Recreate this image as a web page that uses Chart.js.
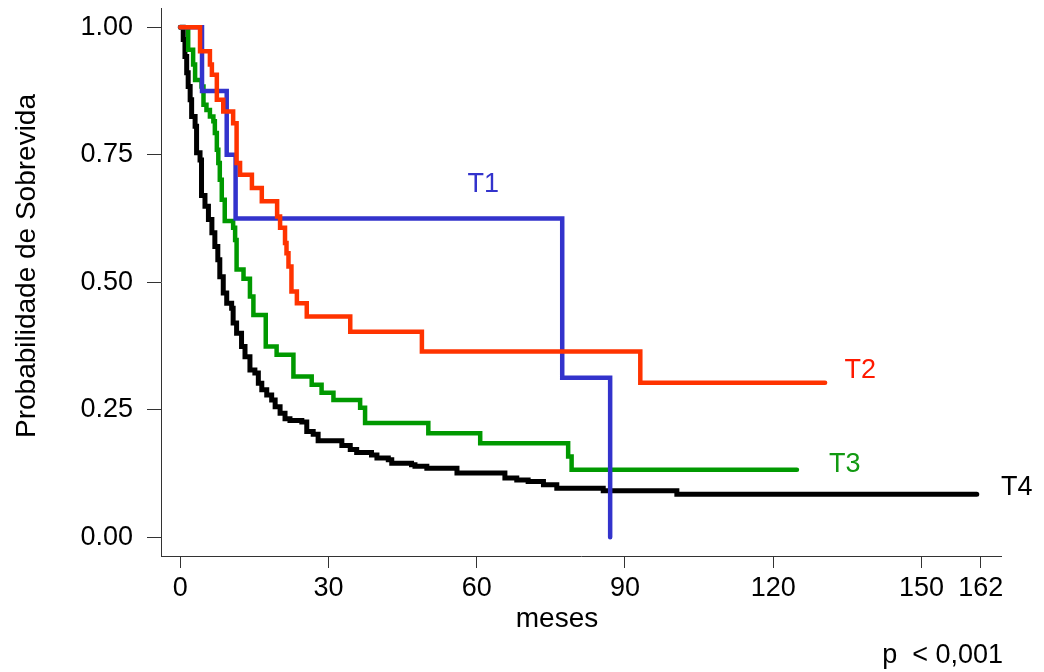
<!DOCTYPE html>
<html>
<head>
<meta charset="utf-8">
<script src="https://cdn.jsdelivr.net/npm/chart.js@4.4.1/dist/chart.umd.min.js"></script>
<style>
html,body{margin:0;padding:0;background:#fff;}
#wrap{width:1044px;height:672px;}
</style>
</head>
<body>
<div id="wrap"><canvas id="c" width="1044" height="672"></canvas></div>
<script>
// Kaplan-Meier estimates (time in months, survival probability after the event)
const t1Times = [0, 4.4, 9.4, 11.2, 77.3, 87.0];
const t1Surv  = [1, 0.875, 0.75, 0.625, 0.3125, 0];

const t2Times = [0, 4.0, 6.0, 6.4, 7.4, 8.7, 10.7, 11.4, 12.1, 14.5, 16.5, 19.6, 20.2, 21.2, 21.5, 21.9, 22.5, 23.6, 25.6, 34.4, 48.9, 93.1, 130.5];
const t2Surv  = [1, 0.953, 0.927, 0.907, 0.858, 0.835, 0.812, 0.734, 0.711, 0.685, 0.659, 0.629, 0.607, 0.577, 0.557, 0.531, 0.482, 0.459, 0.433, 0.403, 0.364, 0.303, 0.303];

const t3Times = [0, 1.6, 2.6, 3.0, 4.3, 4.7, 5.3, 6.0, 6.7, 7.0, 7.4, 7.7, 8.0, 8.4, 9.0, 10.7, 11.1, 11.4, 12.8, 14.1, 14.8, 17.3, 19.5, 22.9, 26.6, 28.6, 31.0, 36.4, 37.4, 50.2, 60.7, 78.5, 79.2, 124.8];
const t3Surv  = [1, 0.956, 0.927, 0.897, 0.884, 0.848, 0.838, 0.825, 0.816, 0.793, 0.760, 0.734, 0.701, 0.662, 0.620, 0.607, 0.583, 0.525, 0.507, 0.472, 0.436, 0.374, 0.358, 0.315, 0.299, 0.283, 0.269, 0.254, 0.224, 0.204, 0.184, 0.158, 0.132, 0.132];

const t4Times = [0, 0.6, 0.95, 1.3, 1.6, 2.0, 2.3, 3.0, 3.3, 4.0, 4.3, 5.0, 5.7, 6.4, 7.0, 7.6, 8.0, 8.7, 9.4, 10.4, 10.7, 11.4, 12.4, 13.1, 14.1, 15.1, 15.8, 16.5, 17.5, 18.5, 19.2, 20.2, 21.2, 22.2, 24.6, 25.6, 26.9, 27.9, 32.7, 34.4, 35.7, 38.7, 39.8, 42.1, 42.8, 46.8, 47.5, 49.9, 56.0, 65.7, 68.1, 70.4, 73.5, 76.2, 85.6, 100.5, 161.2];
const t4Surv  = [1, 0.976, 0.943, 0.911, 0.884, 0.858, 0.825, 0.806, 0.754, 0.740, 0.670, 0.649, 0.623, 0.597, 0.570, 0.544, 0.511, 0.479, 0.459, 0.449, 0.420, 0.400, 0.374, 0.354, 0.328, 0.322, 0.302, 0.289, 0.279, 0.269, 0.256, 0.243, 0.232, 0.229, 0.226, 0.207, 0.202, 0.189, 0.180, 0.172, 0.166, 0.161, 0.155, 0.152, 0.145, 0.142, 0.139, 0.135, 0.126, 0.116, 0.112, 0.109, 0.103, 0.096, 0.091, 0.084, 0.084];

const xTicks = [0, 30, 60, 90, 120, 150, 162];
const yTicks = [0, 0.25, 0.5, 0.75, 1];

const seriesNames = ['T1', 'T2', 'T3', 'T4'];
// label anchor positions (months, probability)
const labelX = [61.3, 137.6, 134.5, 169.3];
const labelY = [0.691, 0.326, 0.142, 0.097];

const xTitle = 'meses';
const yTitle = 'Probabilidade de Sobrevida';
const pText = 'p  < 0,001';

function pts(t, s){ return t.map((v,i)=>({x:v, y:s[i]})); }

const FONT = 'Arial, "Liberation Sans", Helvetica, sans-serif';

const textPlugin = {
  id:'texts',
  afterDraw(chart){
    const ctx = chart.ctx, xs = chart.scales.x, ys = chart.scales.y;
    ctx.save();
    const cols = ['#3333CC', '#FF1A00', '#119911', '#000000'];
    ctx.font = '27px ' + FONT;
    ctx.textAlign = 'center';
    ctx.textBaseline = 'middle';
    seriesNames.forEach((n,i)=>{
      ctx.fillStyle = cols[i];
      ctx.fillText(n, xs.getPixelForValue(labelX[i]), ys.getPixelForValue(labelY[i]));
    });
    ctx.fillStyle = '#000';
    ctx.textBaseline = 'alphabetic';
    ctx.font = '28px ' + FONT;
    ctx.fillText(xTitle, 557, 627);
    ctx.textAlign = 'right';
    ctx.font = '27px ' + FONT;
    ctx.fillText(pText, 1003, 663);
    ctx.font = '28px ' + FONT;
    ctx.translate(35, 266);
    ctx.rotate(-Math.PI/2);
    ctx.textAlign = 'center';
    ctx.fillText(yTitle, 0, 0);
    ctx.restore();
  }
};

new Chart(document.getElementById('c'), {
  type:'line',
  data:{
    datasets:[
      {label:'T2', data:pts(t2Times,t2Surv), borderColor:'#FF3300', borderWidth:4.5, order:0},
      {label:'T1', data:pts(t1Times,t1Surv), borderColor:'#3333CC', borderWidth:4.5, order:1},
      {label:'T3', data:pts(t3Times,t3Surv), borderColor:'#009900', borderWidth:4.5, order:2},
      {label:'T4', data:pts(t4Times,t4Surv), borderColor:'#000000', borderWidth:5, order:3}
    ].map(d=>Object.assign(d,{stepped:true, pointRadius:0, fill:false, borderCapStyle:'round', borderJoinStyle:'miter', tension:0}))
  },
  options:{
    responsive:false,
    devicePixelRatio:1,
    animation:false,
    layout:{padding:{top:8, right:43, left:0, bottom:0}},
    plugins:{legend:{display:false}, tooltip:{enabled:false}},
    scales:{
      x:{
        type:'linear', min:-3.9, max:166.1,
        afterBuildTicks(s){ s.ticks = xTicks.map(v=>({value:v})); },
        afterFit(s){ s.height = 116; s.paddingLeft = 0; s.paddingRight = 0; },
        grid:{display:true, drawOnChartArea:false, drawTicks:true, tickLength:12, color:'#333', lineWidth:1},
        border:{display:true, color:'#333', width:1},
        ticks:{autoSkip:false, maxRotation:0, color:'#000', font:{family:FONT, size:27}, padding:4,
               callback:(v)=>String(v)}
      },
      y:{
        type:'linear', min:-0.037, max:1.038,
        afterBuildTicks(s){ s.ticks = yTicks.map(v=>({value:v})); },
        afterFit(s){ s.width = 161; s.paddingTop = 0; s.paddingBottom = 0; },
        grid:{display:true, drawOnChartArea:false, drawTicks:true, tickLength:14, color:'#333', lineWidth:1},
        border:{display:true, color:'#333', width:1},
        ticks:{autoSkip:false, color:'#000', font:{family:FONT, size:27}, padding:14,
               callback:(v)=>Number(v).toFixed(2)}
      }
    }
  },
  plugins:[textPlugin]
});
</script>
</body>
</html>
